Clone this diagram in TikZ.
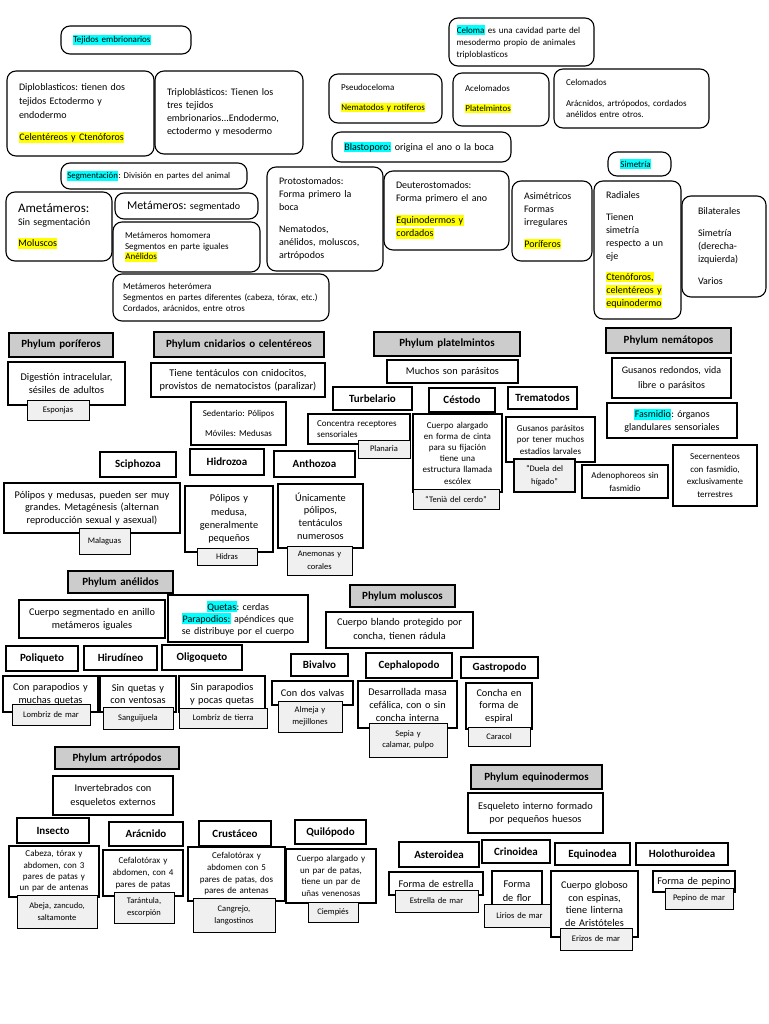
\documentclass[tikz,border=0pt]{standalone}
\usepackage{fontspec}
\setmainfont{Carlito}
\frenchspacing
\definecolor{hlyel}{RGB}{255,255,0}
\definecolor{hlcy}{RGB}{0,255,255}
\newcommand\hly[1]{{\fboxsep=0.4pt\colorbox{hlyel}{\vphantom{Áy}#1}}}
\newcommand\hlc[1]{{\fboxsep=0.4pt\colorbox{hlcy}{\vphantom{Áy}#1}}}
\newcommand\mkbox[8][]{%
  \pgfmathsetmacro\bw{#5-#3}%
  \pgfmathsetmacro\bh{#6-#4}%
  \pgfmathsetmacro\bcx{(#3+#5)/2}%
  \pgfmathsetmacro\bcy{(#4+#6)/2}%
  \pgfmathsetmacro\btw{#5-#3-2*#2}%
  \node[minimum width=\bw pt,minimum height=\bh pt,text width=\btw pt,#1] (#7) at (\bcx,\bcy) {#8};}
\newcommand\Rb[7][]{\mkbox[rb,#1]{12}{#2}{#3}{#4}{#5}{#6}{#7}}
\newcommand\Sq[7][]{\mkbox[sb,#1]{2}{#2}{#3}{#4}{#5}{#6}{#7}}
\tikzset{
  rb/.style={draw, line width=1.1pt, rounded corners=9pt, fill=white, inner sep=0pt, outer sep=0pt, align=left, font=\fontsize{10}{13}\selectfont},
  sb/.style={draw, line width=1.1pt, fill=white, inner sep=0pt, outer sep=0pt, align=center, font=\fontsize{10.3}{13}\selectfont},
  tt/.style={font=\fontsize{11}{13}\selectfont\bfseries},
  ph/.style={tt, fill=gray!40},
  sm/.style={font=\fontsize{9}{11.5}\selectfont},
  ss/.style={font=\fontsize{9}{11.5}\selectfont},
  lb/.style={fill=gray!12, line width=1pt, font=\fontsize{8.5}{12}\selectfont},
  hv/.style={line width=1.8pt}
}
\begin{document}
\begin{tikzpicture}[x=1pt,y=-1pt]
\fill[white] (0,0) rectangle (768,1024);
\useasboundingbox (0,0) rectangle (768,1024);
% ---------- top: rounded boxes ----------
\Rb[font=\fontsize{9}{11}\selectfont]{61}{26}{191}{54}{tej}{\hlc{Tejidos embrionarios}}
\Rb[font=\fontsize{10}{14}\selectfont]{7}{71}{154}{156}{dip}{Diploblasticos: tienen dos\\ tejidos Ectodermo y\\ endodermo\\[8pt] \hly{Celentéreos y Ctenóforos}}
\Rb{155}{71}{303}{154}{tri}{Triploblásticos: Tienen los\\ tres tejidos\\ embrionarios...Endodermo,\\ ectodermo y mesodermo}
\Rb[font=\fontsize{9}{12}\selectfont,text width=130pt]{449}{18}{594}{66}{celo}{\hlc{Celoma} es una cavidad parte del\\ mesodermo propio de animales\\ triploblasticos}
\Rb[ss]{329}{74}{442}{123}{pseu}{Pseudoceloma\\[8pt] \hly{Nematodos y rotíferos}}
\Rb[ss]{453}{73}{549}{126}{acel}{Acelomados\\[8pt] \hly{Platelmintos}}
\Rb[ss]{554}{69}{709}{128}{celm}{Celomados\\[9pt] Arácnidos, artrópodos, cordados\\ anélidos entre otros.}
\Rb{332}{132}{511}{162}{blas}{\hlc{Blastoporo:} origina el ano o la boca}
\Rb[font=\fontsize{8.8}{11}\selectfont,text width=174pt]{61}{163}{247}{189}{segm}{\hlc{Segmentación}: División en partes del animal}
\Rb{6}{192}{112}{261}{amet}{{\fontsize{13}{15}\selectfont Ametámeros:}\\ Sin segmentación\\[8pt] \hly{Moluscos}}
\Rb{115}{193}{258}{219}{metm}{{\fontsize{12}{14}\selectfont Metámeros:} segmentado}
\Rb[font=\fontsize{9}{10.7}\selectfont]{113}{222}{260}{272}{homo}{Metámeros homomera\\ Segmentos en parte iguales\\ \hly{Anélidos}}
\Rb[font=\fontsize{9}{11}\selectfont,text width=196pt]{113}{274}{329}{321}{hete}{Metámeros heterómera\\ Segmentos en partes diferentes (cabeza, tórax, etc.)\\ Cordados, arácnidos, entre otros}
\Rb{267}{167}{383}{271}{prot}{Protostomados:\\ Forma primero la\\ boca\\[9pt] Nematodos,\\ anélidos, moluscos,\\ artrópodos}
\Rb{384}{171}{509}{250}{deut}{Deuterostomados:\\ Forma primero el ano\\[9pt] \hly{Equinodermos y}\\ \hly{cordados}}
\Rb{512}{181}{592}{261}{asim}{Asimétricos\\ Formas\\ irregulares\\[9pt] \hly{Poríferos}}
\Rb[ss]{608}{152}{671}{176}{sime}{\hlc{Simetría}}
\Rb{594}{181}{681}{319}{radi}{Radiales\\[9pt] Tienen\\ simetría\\ respecto a un\\ eje\\[8pt] \hly{Ctenóforos,}\\ \hly{celentéreos y}\\ \hly{equinodermo}}
\Rb[text width=52pt]{682}{196}{766}{297}{bila}{Bilaterales\\[9pt] Simetría\\ (derecha-\\ izquierda)\\[9pt] Varios}
% ---------- poriferos / cnidarios ----------
\Sq[ph,hv]{9}{333}{113}{357}{phpor}{Phylum poríferos}
\Sq[ph]{154}{332}{324}{357}{phcni}{Phylum cnidarios o celentéreos}
\Sq[ph]{374}{332}{520}{356}{phpla}{Phylum platelmintos}
\Sq[ph,hv]{606}{328}{731}{353}{phnem}{Phylum nemátopos}
\Sq{8}{362}{125}{405}{digest}{Digestión intracelular,\\ sésiles de adultos}
\Sq[lb]{27}{400}{89}{420}{espo}{Esponjas}
\Sq{151}{363}{325}{397}{tent}{Tiene tentáculos con cnidocitos,\\ provistos de nematocistos (paralizar)}
\Sq[sm]{191}{402}{286}{445}{sede}{Sedentario: Pólipos\\[8.5pt] Móviles: Medusas}
\Sq[tt,hv]{100}{452}{176}{477}{scip}{Sciphozoa}
\Sq[tt]{190}{449}{264}{475}{hidr}{Hidrozoa}
\Sq[tt]{274}{451}{355}{477}{anth}{Anthozoa}
\Sq[hv,font=\fontsize{10.3}{12.5}\selectfont]{4}{483}{180}{533}{scid}{Pólipos y medusas, pueden ser muy\\ grandes. Metagénesis (alternan\\ reproducción sexual y asexual)}
\Sq[lb]{79}{528}{130}{554}{malg}{Malaguas}
\Sq[font=\fontsize{10.3}{13.3}\selectfont]{185}{486}{273}{552}{hidd}{Pólipos y\\ medusa,\\ generalmente\\ pequeños}
\Sq[lb]{197}{548}{257}{565}{hidra}{Hidras}
\Sq[font=\fontsize{10.3}{12.7}\selectfont]{278}{484}{363}{548}{antd}{Únicamente\\ pólipos,\\ tentáculos\\ numerosos}
\Sq[lb,font=\fontsize{8.5}{13}\selectfont]{287}{546}{352}{575}{anem}{Anemonas y\\ corales}
% ---------- platelmintos ----------
\Sq{387}{360}{518}{383}{much}{Muchos son parásitos}
\Sq[tt]{333}{387}{412}{410}{turb}{Turbelario}
\Sq[tt]{429}{388}{495}{412}{cest}{Céstodo}
\Sq[tt]{508}{387}{577}{409}{trem}{Trematodos}
\Sq[sm,align=left,text width=84pt]{308}{414}{410}{444}{conc}{Concentra receptores\\ sensoriales}
\Sq[lb]{358}{440}{410}{458}{plan}{Planaria}
\Sq[sm,hv,font=\fontsize{9}{11.2}\selectfont]{413}{414}{502}{492}{cesd}{Cuerpo alargado\\ en forma de cinta\\ para su fijación\\ tiene una\\ estructura llamada\\ escólex}
\Sq[lb]{413}{489}{499}{509}{teni}{“Tenià del cerdo”}
\Sq[sm,hv]{506}{417}{595}{462}{gusp}{Gusanos parásitos\\ por tener muchos\\ estadios larvales}
\Sq[lb,hv,font=\fontsize{8.5}{13}\selectfont]{514}{459}{575}{492}{duel}{“Duela del\\ hígado”}
% ---------- nematodos ----------
\Sq[font=\fontsize{10}{15}\selectfont]{612}{358}{731}{398}{gusr}{Gusanos redondos, vida\\ libre o parásitos}
\Sq[font=\fontsize{10}{13}\selectfont]{607}{403}{737}{438}{fasm}{\hlc{Fasmidio}: órganos\\ glandulares sensoriales}
\Sq[sm,font=\fontsize{9}{13}\selectfont]{582}{465}{668}{498}{aden}{Adenophoreos sin\\ fasmidio}
\Sq[sm,font=\fontsize{9}{12.7}\selectfont]{673}{445}{757}{506}{secr}{Secernenteos\\ con fasmidio,\\ exclusivamente\\ terrestres}
% ---------- anelidos ----------
\Sq[ph]{68}{571}{173}{593}{phane}{Phylum anélidos}
\Sq[font=\fontsize{10.3}{13}\selectfont]{19}{600}{165}{638}{cseg}{Cuerpo segmentado en anillo\\ metámeros iguales}
\Sq[font=\fontsize{10}{12}\selectfont]{168}{595}{308}{642}{quet}{\hlc{Quetas}: cerdas\\ \hlc{Parapodios:} apéndices que\\ se distribuye por el cuerpo}
\Sq[tt,hv]{6}{646}{78}{671}{poli}{Poliqueto}
\Sq[tt]{84}{646}{157}{670}{hiru}{Hirudíneo}
\Sq[tt]{162}{645}{242}{670}{olig}{Oligoqueto}
\Sq[hv,font=\fontsize{10.3}{12.5}\selectfont]{3}{676}{98}{712}{conp}{Con parapodios y\\ muchas quetas}
\Sq[lb]{12}{704}{90}{725}{lomm}{Lombriz de mar}
\Sq[font=\fontsize{10.3}{12.5}\selectfont]{100}{676}{176}{712}{sinq}{Sin quetas y\\ con ventosas}
\Sq[lb]{103}{707}{173}{729}{sang}{Sanguijuela}
\Sq[font=\fontsize{10.3}{12.5}\selectfont]{179}{676}{265}{712}{sinp}{Sin parapodios\\ y pocas quetas}
\Sq[lb]{179}{708}{267}{728}{lomt}{Lombriz de tierra}
% ---------- moluscos ----------
\Sq[ph]{350}{585}{455}{607}{phmol}{Phylum moluscos}
\Sq[font=\fontsize{10.3}{14}\selectfont]{326}{612}{473}{648}{cbla}{Cuerpo blando protegido por\\ concha, tienen rádula}
\Sq[tt]{291}{654}{348}{676}{biva}{Bivalvo}
\Sq[tt]{366}{653}{452}{678}{ceph}{Cephalopodo}
\Sq[tt]{461}{657}{538}{678}{gast}{Gastropodo}
\Sq{272}{681}{353}{705}{cdos}{Con dos valvas}
\Sq[lb]{278}{701}{342}{732}{alme}{Almeja y\\ mejillones}
\Sq{358}{681}{457}{728}{desa}{Desarrollada masa\\ cefálica, con o sin\\ concha interna}
\Sq[font=\fontsize{10.3}{12.5}\selectfont]{466}{683}{532}{729}{conh}{Concha en\\ forma de\\ espiral}
\Sq[lb,font=\fontsize{8.5}{11}\selectfont]{369}{723}{447}{757}{sepi}{Sepia y\\ calamar, pulpo}
\Sq[lb]{468}{727}{530}{746}{cara}{Caracol}
% ---------- artropodos ----------
\Sq[ph]{55}{747}{179}{769}{phart}{Phylum artrópodos}
\Sq[font=\fontsize{10.3}{14}\selectfont]{53}{776}{173}{815}{inve}{Invertebrados con\\ esqueletos externos}
\Sq[tt,hv]{17}{818}{89}{843}{inse}{Insecto}
\Sq[tt]{109}{822}{183}{846}{arac}{Arácnido}
\Sq[tt]{199}{821}{271}{846}{crus}{Crustáceo}
\Sq[tt]{295}{820}{366}{844}{quil}{Quilópodo}
\Sq[sm,font=\fontsize{9}{11.3}\selectfont]{9}{846}{99}{897}{cabe}{Cabeza, tórax y\\ abdomen, con 3\\ pares de patas y\\ un par de antenas}
\Sq[lb]{17}{895}{97}{928}{abej}{Abeja, zancudo,\\ saltamonte}
\Sq[sm,hv,font=\fontsize{9}{12}\selectfont]{103}{850}{183}{896}{cefc}{Cefalotórax y\\ abdomen, con 4\\ pares de patas}
\Sq[lb]{114}{892}{174}{923}{tara}{Tarántula,\\ escorpión}
\Sq[sm,font=\fontsize{9}{11.7}\selectfont]{188}{847}{285}{901}{cefd}{Cefalotórax y\\ abdomen con 5\\ pares de patas, dos\\ pares de antenas}
\Sq[lb]{193}{898}{275}{932}{cang}{Cangrejo,\\ langostinos}
\Sq[sm,hv,font=\fontsize{9}{11.7}\selectfont]{286}{849}{376}{903}{cuea}{Cuerpo alargado y\\ un par de patas,\\ tiene un par de\\ uñas venenosas}
\Sq[lb]{308}{902}{358}{922}{ciem}{Ciempiés}
% ---------- equinodermos ----------
\Sq[ph]{471}{765}{602}{789}{pheq}{Phylum equinodermos}
\Sq[font=\fontsize{10.3}{13.5}\selectfont]{468}{793}{603}{833}{esqu}{Esqueleto interno formado\\ por pequeños huesos}
\Sq[tt,hv]{399}{842}{479}{867}{aste}{Asteroidea}
\Sq[tt]{482}{840}{550}{863}{crin}{Crinoidea}
\Sq[tt]{555}{843}{630}{865}{equi}{Equinodea}
\Sq[tt]{636}{843}{728}{865}{holo}{Holothuroidea}
\Sq{389}{872}{483}{895}{fest}{Forma de estrella}
\Sq[lb]{395}{890}{478}{912}{estm}{Estrella de mar}
\Sq[hv,font=\fontsize{10.3}{14}\selectfont]{492}{871}{542}{926}{fflo}{Forma\\ de flor\\ \mbox{}}
\Sq[lb]{484}{904}{555}{927}{liri}{Lirios de mar}
\Sq[font=\fontsize{10.3}{12.7}\selectfont]{551}{871}{638}{937}{cglo}{Cuerpo globoso\\ con espinas,\\ tiene linterna\\ de Aristóteles}
\Sq[lb]{560}{928}{632}{950}{eriz}{Erizos de mar}
\Sq{653}{871}{735}{892}{fpep}{Forma de pepino}
\Sq[lb]{665}{888}{733}{909}{pepm}{Pepino de mar}
\end{tikzpicture}
\end{document}
